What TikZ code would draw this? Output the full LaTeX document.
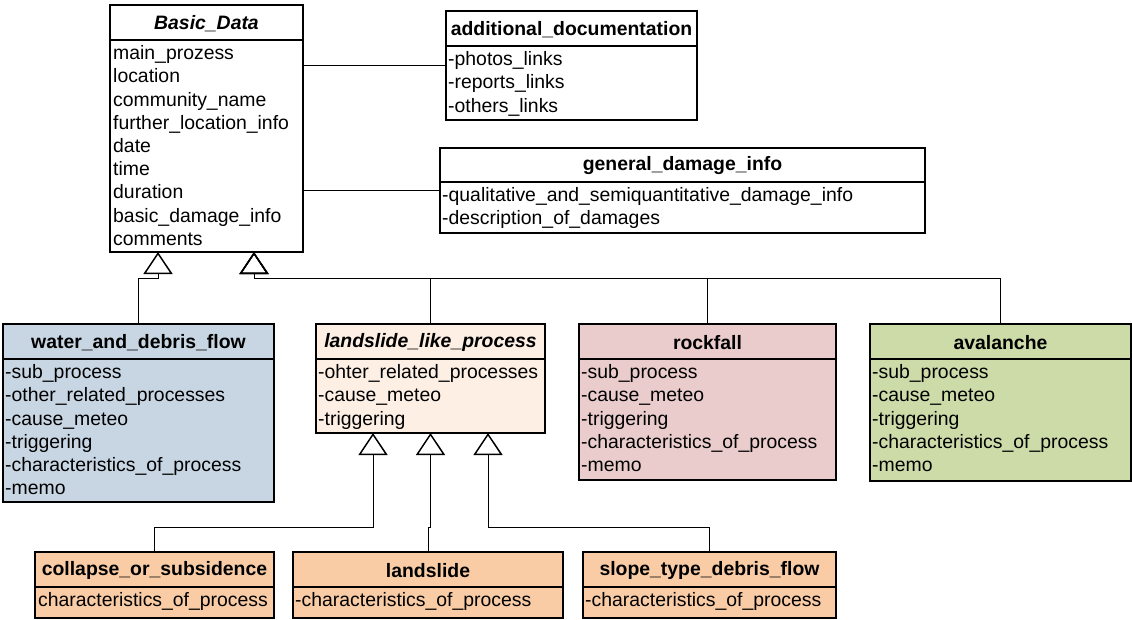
\documentclass[tikz,border=0pt]{standalone}
\usepackage{fontspec}
\setmainfont{Liberation Sans}
\usetikzlibrary{arrows.meta}

\definecolor{waterfill}{RGB}{200,214,228}
\definecolor{slidefill}{RGB}{253,239,228}
\definecolor{rockfill}{RGB}{234,204,204}
\definecolor{avalfill}{RGB}{204,219,168}
\definecolor{subfill}{RGB}{249,204,166}

\begin{document}
\begin{tikzpicture}
	[x=1pt,y=-1pt,font=\fontsize{19.4}{23.2}\selectfont,
		class node/.style={draw,line width=1.5pt,anchor=north west,inner sep=0pt,outer sep=0pt},
		title node/.style={font=\fontsize{19.4}{23.2}\selectfont\bfseries,inner sep=0pt},
		attr node/.style={anchor=north west,align=left,inner sep=0pt},
		sep line/.style={line width=1.5pt},
		gen/.style={line width=1pt,-{Triangle[open,length=22pt,width=29pt,line width=1.5pt]}},
		assoc/.style={line width=1pt}]

	\useasboundingbox (0,0) rectangle (1132,619);

	% classes
	\node[class node, fill=white, minimum width=193pt, minimum height=247pt] (basic) at (110,5) {};
	\node[class node, fill=white, minimum width=251pt, minimum height=109pt] (adddoc) at (446,11) {};
	\node[class node, fill=white, minimum width=485pt, minimum height=85pt] (general) at (440,148) {};
	\node[class node, fill=waterfill, minimum width=271pt, minimum height=178pt] (water) at (3,324) {};
	\node[class node, fill=slidefill, minimum width=229pt, minimum height=109pt] (slidelike) at (316,324) {};
	\node[class node, fill=rockfill, minimum width=257pt, minimum height=156pt] (rock) at (579,324) {};
	\node[class node, fill=avalfill, minimum width=261pt, minimum height=157pt] (aval) at (870,324) {};
	\node[class node, fill=subfill, minimum width=239pt, minimum height=66pt] (collapse) at (35,552) {};
	\node[class node, fill=subfill, minimum width=270pt, minimum height=66pt] (landslide) at (293,552) {};
	\node[class node, fill=subfill, minimum width=253pt, minimum height=66pt] (slope) at (583,552) {};

	% header lines
	\foreach \c in {basic,adddoc,water,slidelike,rock,aval,collapse,landslide,slope}
		\draw[sep line] ([yshift=-35pt]\c.north west) -- ([yshift=-35pt]\c.north east);
	\draw[sep line] ([yshift=-34pt]general.north west) -- ([yshift=-34pt]general.north east);

	% titles
	\node[title node] (basic-t) at ([yshift=-18.5pt]basic.north) {\itshape Basic\_Data};
	\node[title node] (adddoc-t) at ([yshift=-18.5pt]adddoc.north) {additional\_documentation};
	\node[title node] (general-t) at ([yshift=-17.5pt]general.north) {general\_damage\_info};
	\node[title node] (water-t) at ([yshift=-18.5pt]water.north) {water\_and\_debris\_flow};
	\node[title node] (slidelike-t) at ([yshift=-18.5pt]slidelike.north) {\itshape landslide\_like\_process};
	\node[title node] (rock-t) at ([yshift=-18.5pt]rock.north) {rockfall};
	\node[title node] (aval-t) at ([yshift=-18.5pt]aval.north) {avalanche};
	\node[title node] (collapse-t) at ([yshift=-18.5pt]collapse.north) {collapse\_or\_subsidence};
	\node[title node] (landslide-t) at ([yshift=-18.5pt]landslide.north) {landslide};
	\node[title node] (slope-t) at ([yshift=-18.5pt]slope.north) {slope\_type\_debris\_flow};

	% attributes
	\node[attr node] (basic-a) at ([xshift=3pt,yshift=-40.5pt]basic.north west)
		{main\_prozess\\location\\community\_name\\further\_location\_info\\date\\time\\duration\\basic\_damage\_info\\comments};
	\node[attr node] (adddoc-a) at ([xshift=2pt,yshift=-40.5pt]adddoc.north west)
		{-photos\_links\\-reports\_links\\-others\_links};
	\node[attr node] (general-a) at ([xshift=2pt,yshift=-39.5pt]general.north west)
		{-qualitative\_and\_semiquantitative\_damage\_info\\-description\_of\_damages};
	\node[attr node] (water-a) at ([xshift=2pt,yshift=-40.5pt]water.north west)
		{-sub\_process\\-other\_related\_processes\\-cause\_meteo\\-triggering\\-characteristics\_of\_process\\-memo};
	\node[attr node] (slidelike-a) at ([xshift=2pt,yshift=-40.5pt]slidelike.north west)
		{-ohter\_related\_processes\\-cause\_meteo\\-triggering};
	\node[attr node] (rock-a) at ([xshift=2pt,yshift=-40.5pt]rock.north west)
		{-sub\_process\\-cause\_meteo\\-triggering\\-characteristics\_of\_process\\-memo};
	\node[attr node] (aval-a) at ([xshift=2pt,yshift=-40.5pt]aval.north west)
		{-sub\_process\\-cause\_meteo\\-triggering\\-characteristics\_of\_process\\-memo};
	\node[attr node] (collapse-a) at ([xshift=3pt,yshift=-40.5pt]collapse.north west)
		{characteristics\_of\_process};
	\node[attr node] (landslide-a) at ([xshift=2pt,yshift=-40.5pt]landslide.north west)
		{-characteristics\_of\_process};
	\node[attr node] (slope-a) at ([xshift=2pt,yshift=-40.5pt]slope.north west)
		{-characteristics\_of\_process};

	% generalization targets
	\coordinate (basic-g1) at ([xshift=-48.5pt]basic.south);
	\coordinate (basic-g2) at ([xshift=47.5pt]basic.south);
	\coordinate (slidelike-g1) at ([xshift=-57.5pt]slidelike.south);
	\coordinate (slidelike-g2) at (slidelike.south);
	\coordinate (slidelike-g3) at ([xshift=57.5pt]slidelike.south);

	% associations
	\draw[assoc] (adddoc.west) -- (adddoc.west -| basic.east);
	\draw[assoc] (general.west) -- (general.west -| basic.east);

	% inheritance
	\draw[gen] (water.north) -- ++(0,-46) -| (basic-g1);
	\draw[gen] (slidelike.north) -- ++(0,-46) -| (basic-g2);
	\draw[gen] (rock.north) -- ++(0,-46) -| (basic-g2);
	\draw[gen] (aval.north) -- ++(0,-46) -| (basic-g2);
	\draw[gen] (collapse.north) -- ++(0,-25) -| (slidelike-g1);
	\draw[gen] (landslide.north) -- ++(0,-25) -| (slidelike-g2);
	\draw[gen] (slope.north) -- ++(0,-25) -| (slidelike-g3);

\end{tikzpicture}
\end{document}
